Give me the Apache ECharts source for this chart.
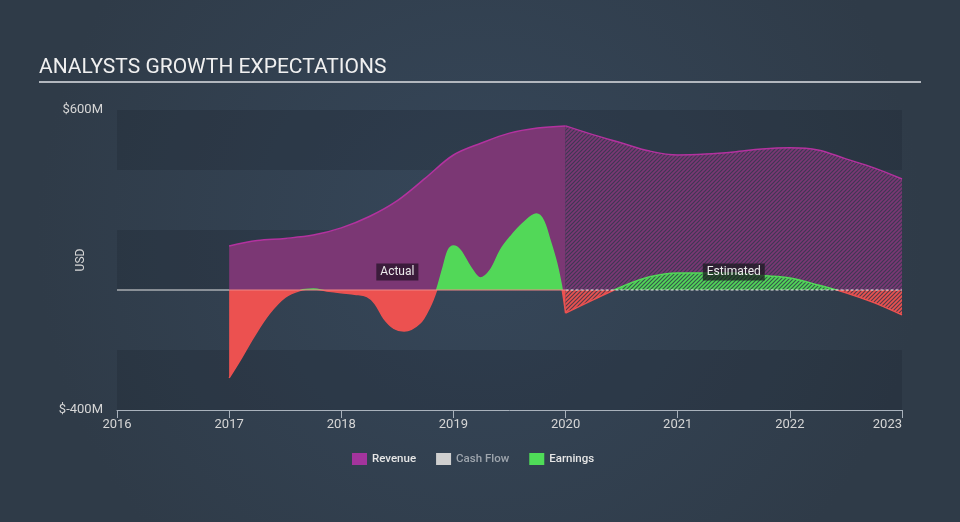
<!DOCTYPE html>
<html>
<head>
<meta charset="utf-8">
<script src="https://cdn.jsdelivr.net/npm/echarts@6/dist/echarts.min.js"></script>
<style>
html,body{margin:0;padding:0;background:#33424f;}
#chart{width:960px;height:522px;}
</style>
</head>
<body>
<div id="chart"></div>
<script>
// ---- data ----
const xTickYears = [2016, 2017, 2018, 2019, 2020, 2021, 2022, 2023];
const yTickLabels = [-400, 600];

const revActualX = [2017, 2017.25, 2017.5, 2017.75, 2018, 2018.25, 2018.5, 2018.75, 2019, 2019.25, 2019.5, 2019.75, 2020];
const revActualY = [147, 165, 172, 183, 207, 245, 298, 373, 450, 490, 523, 540, 547];

const revEstX = [2020, 2020.25, 2020.5, 2020.75, 2021, 2021.25, 2021.5, 2021.75, 2022, 2022.25, 2022.5, 2022.75, 2023];
const revEstY = [547, 517, 490, 463, 450, 453, 460, 470, 474, 467, 437, 407, 370];

const earnActualX = [2017, 2017.1, 2017.22, 2017.36, 2017.5, 2017.63, 2017.75, 2017.87, 2018, 2018.12, 2018.23, 2018.3, 2018.38, 2018.47, 2018.56, 2018.7, 2018.79, 2018.85, 2018.91, 2018.955, 2019, 2019.06, 2019.15, 2019.24, 2019.33, 2019.42, 2019.51, 2019.62, 2019.74, 2019.8, 2019.86, 2019.92, 2019.97, 2020];
const earnActualY = [-293, -233, -156, -78, -24, -2, 3, -3, -9, -14, -22, -45, -95, -128, -137, -111, -56, 0, 78, 133, 147, 133, 78, 40, 67, 133, 178, 222, 253, 233, 167, 90, 0, -77];

const earnEstX = [2020, 2020.25, 2020.5, 2020.75, 2021, 2021.25, 2021.5, 2021.75, 2022, 2022.25, 2022.5, 2022.75, 2023];
const earnEstY = [-77, -32, 11, 44, 57, 57, 57, 48, 40, 17, -9, -42, -83];

const zeroSegX = [2016, 2017, 2020, 2023];
const annotations = [
  {text: 'Actual', x: 2018.5, y: 60},
  {text: 'Estimated', x: 2021.5, y: 60}
];

// ---- helpers ----
const zip = (xs, ys) => xs.map((x, i) => [x, ys[i]]);

function hatch(bg, stripe, n, w) {
  const c = document.createElement('canvas');
  c.width = n; c.height = n;
  const g = c.getContext('2d');
  if (bg) { g.fillStyle = bg; g.fillRect(0, 0, n, n); }
  g.strokeStyle = stripe;
  g.lineWidth = w;
  g.beginPath();
  g.moveTo(-1, 1); g.lineTo(1, -1);
  g.moveTo(0, n); g.lineTo(n, 0);
  g.moveTo(n - 1, n + 1); g.lineTo(n + 1, n - 1);
  g.stroke();
  return c;
}

const PURPLE_LINE = '#b3329f';
const PURPLE_AREA = '#7b3774';
const GREEN = '#52d858';
const RED = '#ec5150';

const revPattern = {image: hatch(PURPLE_AREA, 'rgba(52,56,78,0.85)', 4, 1.2), repeat: 'repeat'};
const darkPattern = {image: hatch(null, 'rgba(48,56,72,0.8)', 4, 1.2), repeat: 'repeat'};

const chart = echarts.init(document.getElementById('chart'), null, {renderer: 'canvas'});

const SMOOTH = 0.35;

const option = {
  backgroundColor: {
    type: 'radial', x: 0.5, y: 0.45, r: 0.85,
    colorStops: [{offset: 0, color: '#36475a'}, {offset: 1, color: '#2f3b48'}]
  },
  animation: false,
  textStyle: {fontFamily: 'Roboto, sans-serif'},
  title: {
    text: 'ANALYSTS GROWTH EXPECTATIONS',
    left: 39, top: 57, padding: 0,
    textStyle: {color: '#f0f0f0', fontSize: 21, fontWeight: 'normal', fontFamily: 'Roboto'}
  },
  graphic: [{
    type: 'line', shape: {x1: 39, y1: 82, x2: 921, y2: 82},
    style: {stroke: '#b2b7be', lineWidth: 2}, silent: true
  }],
  grid: {left: 117, right: 58, top: 110, bottom: 112},
  legend: {
    top: 453, left: 352, padding: 0,
    itemWidth: 15, itemHeight: 12, itemGap: 20,
    icon: 'rect',
    textStyle: {color: '#e6e6e6', fontSize: 11.5, fontWeight: 500},
    selectedMode: false,
    data: [
      {name: 'Revenue', icon: 'rect', itemStyle: {color: '#a4349d'}},
      {name: 'Cash Flow', icon: 'rect', itemStyle: {color: '#cfcfcf'}, textStyle: {color: '#9ea5ad'}},
      {name: 'Earnings', icon: 'rect', itemStyle: {color: '#4fdc58'}}
    ]
  },
  xAxis: {
    type: 'value', min: xTickYears[0], max: xTickYears[xTickYears.length - 1], interval: 1,
    axisLine: {show: true, onZero: false, lineStyle: {color: '#a9b2bc', width: 1}},
    axisTick: {show: true, length: 8, lineStyle: {color: '#a9b2bc'}},
    axisLabel: {color: '#d6d6d6', fontSize: 13, margin: 8, alignMaxLabel: 'right',
      formatter: v => String(v)},
    splitLine: {show: false}
  },
  yAxis: {
    type: 'value', min: -400, max: 600, interval: 200,
    name: 'USD', nameLocation: 'middle', nameGap: 30, nameMoveOverlap: false,
    nameTextStyle: {color: '#d6d6d6', fontSize: 12},
    axisLine: {show: false}, axisTick: {show: false},
    axisLabel: {color: '#d6d6d6', fontSize: 13, margin: 14,
      formatter: v => yTickLabels.indexOf(v) >= 0 ? '$' + v + 'M' : ''},
    splitLine: {show: false},
    splitArea: {show: true, areaStyle: {color: ['rgba(28,36,48,0.26)', 'rgba(0,0,0,0)']}}
  },
  visualMap: {
    type: 'piecewise', show: false, dimension: 1,
    seriesIndex: [2, 3, 4],
    pieces: [{gt: -100000, lte: 0, color: RED}, {gt: 0, lte: 100000, color: GREEN}]
  },
  series: [
    { // 0 revenue actual
      name: 'Revenue', type: 'line', data: zip(revActualX, revActualY),
      smooth: SMOOTH, showSymbol: false, z: 2,
      lineStyle: {color: PURPLE_LINE, width: 1.5},
      itemStyle: {color: PURPLE_LINE},
      areaStyle: {color: PURPLE_AREA, opacity: 1}
    },
    { // 1 revenue estimated (hatched)
      name: 'Revenue', type: 'line', data: zip(revEstX, revEstY),
      smooth: SMOOTH, showSymbol: false, z: 2,
      lineStyle: {color: PURPLE_LINE, width: 1.5},
      itemStyle: {color: PURPLE_LINE},
      areaStyle: {color: revPattern, opacity: 1}
    },
    { // 2 earnings actual
      name: 'Earnings', type: 'line', data: zip(earnActualX, earnActualY),
      smooth: SMOOTH, showSymbol: false, z: 3,
      lineStyle: {width: 1.5},
      areaStyle: {opacity: 1}
    },
    { // 3 earnings estimated solid fill
      name: 'Earnings', type: 'line', data: zip(earnEstX, earnEstY),
      smooth: SMOOTH, showSymbol: false, z: 3,
      lineStyle: {width: 0},
      areaStyle: {opacity: 1}
    },
    { // 4 earnings estimated hatch overlay + line
      name: 'Earnings', type: 'line', data: zip(earnEstX, earnEstY),
      smooth: SMOOTH, showSymbol: false, z: 3,
      lineStyle: {width: 1.5},
      areaStyle: {color: darkPattern, opacity: 1}
    },
    { // 5 zero line before data
      name: 'zero1', type: 'line', data: [[zeroSegX[0], 0], [zeroSegX[1], 0]],
      showSymbol: false, z: 4, silent: true,
      lineStyle: {color: '#e4e4e4', width: 1}
    },
    { // 6 zero line actual
      name: 'zero2', type: 'line', data: [[zeroSegX[1], 0], [zeroSegX[2], 0]],
      showSymbol: false, z: 4, silent: true,
      lineStyle: {color: '#f08686', width: 1},
      markPoint: {
        symbol: 'rect', symbolSize: 1, itemStyle: {color: 'rgba(0,0,0,0)'},
        label: {show: true, position: 'inside', color: '#ececec', fontSize: 12,
          backgroundColor: 'rgba(38,20,40,0.75)', padding: [3, 4, 2, 4],
          formatter: p => p.name},
        data: [{name: annotations[0].text, coord: [annotations[0].x, annotations[0].y]}]
      }
    },
    { // 7 zero line estimated (dashed)
      name: 'zero3', type: 'line', data: [[zeroSegX[2], 0], [zeroSegX[3], 0]],
      showSymbol: false, z: 4, silent: true,
      lineStyle: {color: '#e8e8e8', width: 1, type: [3, 2]},
      markPoint: {
        symbol: 'rect', symbolSize: 1, itemStyle: {color: 'rgba(0,0,0,0)'},
        label: {show: true, position: 'inside', color: '#ececec', fontSize: 12,
          backgroundColor: 'rgba(25,25,30,0.72)', padding: [3, 4, 2, 4],
          formatter: p => p.name},
        data: [{name: annotations[1].text, coord: [annotations[1].x, annotations[1].y]}]
      }
    },
    { // 8 cash flow (no data)
      name: 'Cash Flow', type: 'line', data: [],
      itemStyle: {color: '#cfcfcf'}
    }
  ]
};
chart.setOption(option);
</script>
</body>
</html>
